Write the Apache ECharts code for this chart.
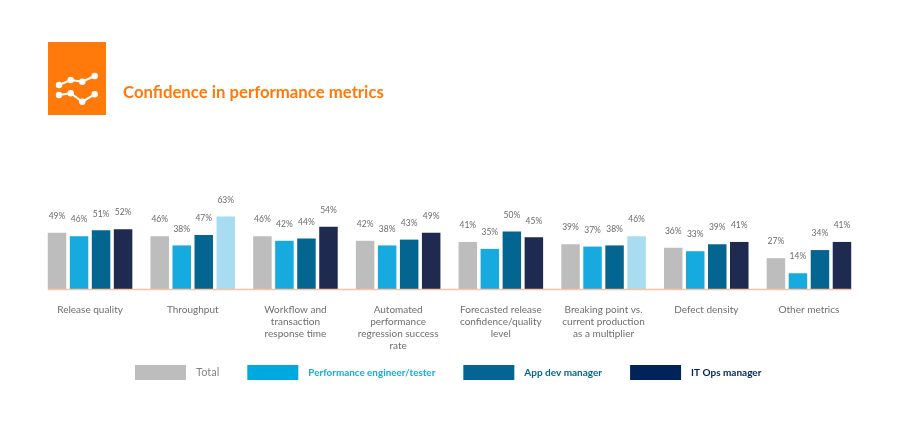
<!DOCTYPE html>
<html>
<head>
<meta charset="utf-8">
<title>Confidence in performance metrics</title>
<script src="https://cdn.jsdelivr.net/npm/echarts@6/dist/echarts.min.js"></script>
<style>
  html, body { margin: 0; padding: 0; background: #fff; }
  #chart { width: 900px; height: 426px; }
</style>
</head>
<body>
<div id="chart"></div>
<script>
const categories = [
    'Release quality',
    'Throughput',
    'Workflow and\ntransaction\nresponse time',
    'Automated\nperformance\nregression success\nrate',
    'Forecasted release\nconfidence/quality\nlevel',
    'Breaking point vs.\ncurrent production\nas a multiplier',
    'Defect density',
    'Other metrics'
];
const total = [49, 46, 46, 42, 41, 39, 36, 27];
const perfEngineer = [46, 38, 42, 38, 35, 37, 33, 14];
const appDevManager = [51, 47, 44, 43, 50, 38, 39, 34];
const itOpsManager = [52, 63, 54, 49, 45, 46, 41, 41];
// these two IT Ops bars are drawn pale in the original
const paleItOps = ['Throughput', 'Breaking point vs.\ncurrent production\nas a multiplier'];

const chart = echarts.init(document.getElementById('chart'));

function barSeries(name, values, color) {
    return {
        name: name,
        type: 'bar',
        data: values,
        barWidth: 18.5,
        barGap: '19%',
        itemStyle: { color: color },
        label: {
            show: true,
            position: 'top',
            distance: 12,
            formatter: '{c}%',
            fontFamily: 'Lato',
            fontSize: 8.5,
            color: '#6a6a6a'
        }
    };
}

function iconLine(points) {
    return {
        type: 'polyline',
        z: 11,
        shape: { points: points },
        style: { stroke: '#fff', lineWidth: 2, fill: null }
    };
}

function iconDots(points) {
    return points.map(p => ({
        type: 'circle',
        z: 12,
        shape: { cx: p[0], cy: p[1], r: 3.2 },
        style: { fill: '#fff' }
    }));
}

const iconTop = [[59, 85], [70.7, 80], [82.3, 81.7], [94.7, 76]];
const iconBottom = [[59, 95], [70.7, 93.3], [82.3, 101.7], [94.7, 94.3]];

const series = [
    barSeries('Total', total, '#bdbdbd'),
    barSeries('Performance engineer/tester', perfEngineer, '#16aade'),
    barSeries('App dev manager', appDevManager, '#046690'),
    barSeries('IT Ops manager', itOpsManager, '#1e2a4f')
];
series[3].itemStyle.color = (p) => paleItOps.includes(p.name) ? '#a8dcf0' : '#1e2a4f';

chart.setOption({
    animation: false,
    backgroundColor: '#fff',
    title: {
        text: 'Confidence in performance metrics',
        left: 118,
        top: 79,
        textStyle: { fontFamily: 'Lato', fontSize: 16.75, fontWeight: 'bold', color: '#ff7a0a' }
    },
    legend: {
        left: 130,
        top: 360,
        itemWidth: 51,
        itemHeight: 15,
        itemGap: 28,
        icon: 'rect',
        textStyle: { fontFamily: 'Lato', fontSize: 10, padding: [0, 0, 0, 5] },
        data: [
            { name: 'Total', itemStyle: { color: '#bdbdbd' }, textStyle: { color: '#858585', fontSize: 11 } },
            { name: 'Performance engineer/tester', itemStyle: { color: '#00a9dd' }, textStyle: { color: '#16aade', fontWeight: 'bold', fontSize: 9.9 } },
            { name: 'App dev manager', itemStyle: { color: '#046690' }, textStyle: { color: '#046690', fontWeight: 'bold' } },
            { name: 'IT Ops manager', itemStyle: { color: '#00245a' }, textStyle: { color: '#00245a', fontWeight: 'bold' } }
        ]
    },
    grid: { left: 38.7, top: 208.3, width: 821.6, height: 81.2 },
    xAxis: {
        type: 'category',
        data: categories,
        axisLine: { show: false },
        axisTick: { show: false },
        axisLabel: {
            interval: 0,
            margin: 14,
            fontFamily: 'Lato',
            fontSize: 10,
            lineHeight: 12,
            color: '#6e6e6e'
        }
    },
    yAxis: { type: 'value', min: 0, max: 70, show: false },
    series: series,
    graphic: [
        // baseline only spans the bars, not the full grid
        { type: 'line', z: 10, shape: { x1: 48, y1: 289.5, x2: 851, y2: 289.5 }, style: { stroke: '#f5c4a5', lineWidth: 1.5 } },
        // orange icon box
        { type: 'rect', z: 10, shape: { x: 48, y: 42, width: 58, height: 73 }, style: { fill: '#ff7a0a' } },
        iconLine(iconTop),
        iconLine(iconBottom),
        ...iconDots(iconTop),
        ...iconDots(iconBottom)
    ]
});
</script>
</body>
</html>
